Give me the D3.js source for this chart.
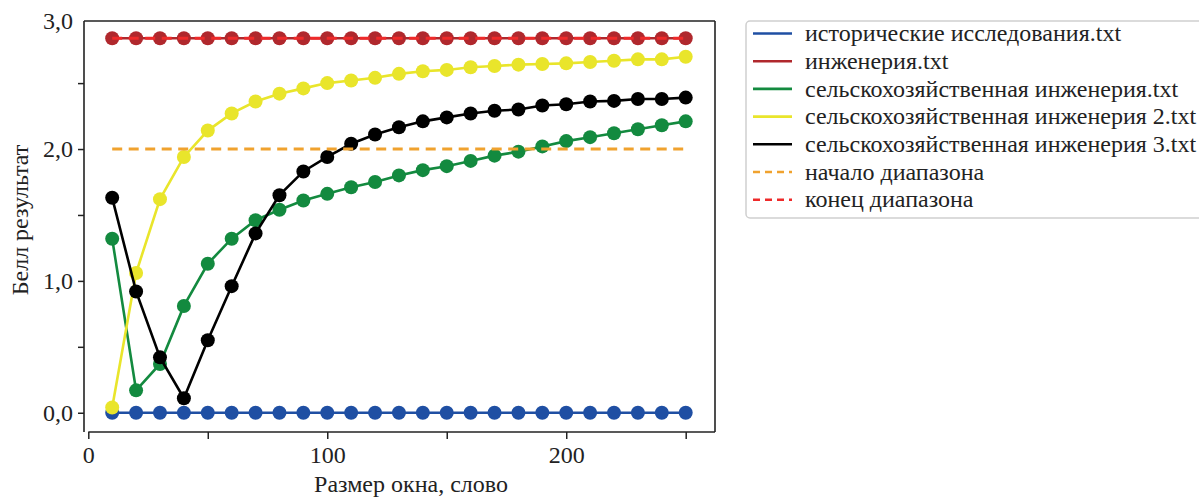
<!DOCTYPE html>
<html>
<head>
<meta charset="utf-8">
<script src="https://cdn.jsdelivr.net/npm/d3@7"></script>
<style>
  body { margin: 0; background: #fff; }
  svg { font-family: "Liberation Serif", "Times New Roman", serif; }
</style>
</head>
<body>
<svg width="1199" height="497"></svg>
<script>
// window sizes, words
const windowSizes = [10, 20, 30, 40, 50, 60, 70, 80, 90, 100, 110, 120, 130, 140, 150, 160, 170, 180, 190, 200, 210, 220, 230, 240, 250];

const historical = [0, 0, 0, 0, 0, 0, 0, 0, 0, 0, 0, 0, 0, 0, 0, 0, 0, 0, 0, 0, 0, 0, 0, 0, 0];
const engineering = [2.84, 2.84, 2.84, 2.84, 2.84, 2.84, 2.84, 2.84, 2.84, 2.84, 2.84, 2.84, 2.84, 2.84, 2.84, 2.84, 2.84, 2.84, 2.84, 2.84, 2.84, 2.84, 2.84, 2.84, 2.84];
const agri1 = [1.32, 0.17, 0.37, 0.81, 1.13, 1.32, 1.46, 1.54, 1.61, 1.66, 1.71, 1.75, 1.80, 1.84, 1.87, 1.91, 1.95, 1.98, 2.02, 2.06, 2.09, 2.12, 2.15, 2.18, 2.21];
const agri2 = [0.04, 1.06, 1.62, 1.94, 2.14, 2.27, 2.36, 2.42, 2.46, 2.50, 2.52, 2.54, 2.57, 2.59, 2.60, 2.62, 2.63, 2.64, 2.645, 2.65, 2.66, 2.67, 2.68, 2.68, 2.70];
const agri3 = [1.63, 0.92, 0.42, 0.11, 0.55, 0.96, 1.36, 1.65, 1.83, 1.94, 2.04, 2.11, 2.165, 2.21, 2.24, 2.27, 2.29, 2.30, 2.33, 2.34, 2.36, 2.365, 2.38, 2.38, 2.39];

const rangeStart = 2.0;
const rangeEnd = 2.84;

const seriesNames = [
  "исторические исследования.txt",
  "инженерия.txt",
  "сельскохозяйственная инженерия.txt",
  "сельскохозяйственная инженерия 2.txt",
  "сельскохозяйственная инженерия 3.txt"
];
const rangeNames = ["начало диапазона", "конец диапазона"];

const xTicks = [0, 50, 100, 150, 200, 250];
const xTickLabels = ["0", "", "100", "", "200", ""];
const yTicks = [0, 0.5, 1, 1.5, 2, 2.5, 3];
const yTickLabels = ["0,0", "", "1,0", "", "2,0", "", "3,0"];

const xLabel = "Размер окна, слово";
const yLabel = "Белл результат";

const colors = ["#1f4fa3", "#b0282d", "#138a3f", "#e9e52b", "#000000"];
const rangeColors = ["#f0a22e", "#ee2a2a"];

const svg = d3.select("svg");
const plotLeft = 84, plotRight = 715, plotTop = 21, plotBottom = 432;
const fontSize = "24px";

const x = d3.scaleLinear().domain([0, 250]).range([88.3, 685.7]);
const y = d3.scaleLinear().domain([-0.146, 2.971]).range([plotBottom, plotTop]).clamp(true);

// frame
const frame = svg.append("g").attr("stroke", "#222").attr("stroke-width", 1.6).attr("fill", "none");
frame.append("line").attr("x1", plotLeft).attr("x2", plotLeft).attr("y1", plotTop).attr("y2", plotBottom);
frame.append("line").attr("x1", plotLeft).attr("x2", plotRight).attr("y1", plotTop).attr("y2", plotTop);
frame.append("line").attr("x1", plotRight).attr("x2", plotRight).attr("y1", plotTop).attr("y2", plotBottom);
frame.append("line").attr("x1", x(0)).attr("x2", plotRight).attr("y1", plotBottom).attr("y2", plotBottom);

// axes
const xAxis = svg.append("g")
  .attr("transform", `translate(0,${plotBottom})`)
  .call(d3.axisBottom(x).tickValues(xTicks).tickSizeInner(7).tickSizeOuter(0).tickPadding(7)
    .tickFormat((d, i) => xTickLabels[i]));
const yAxis = svg.append("g")
  .attr("transform", `translate(${plotLeft},0)`)
  .call(d3.axisLeft(y).tickValues(yTicks).tickSizeInner(6).tickSizeOuter(0).tickPadding(5)
    .tickFormat((d, i) => yTickLabels[i]));

[xAxis, yAxis].forEach(a => {
  a.select(".domain").remove();
  a.selectAll(".tick line").attr("stroke", "#222").attr("stroke-width", 1.5);
  a.selectAll(".tick text").attr("fill", "#222").style("font-size", fontSize)
    .style("font-family", "Liberation Serif, serif");
});
yAxis.selectAll(".tick").filter(d => d === 3).select("line").remove();

svg.append("text")
  .attr("x", 411).attr("y", 492)
  .attr("text-anchor", "middle").attr("fill", "#222")
  .style("font-size", fontSize).text(xLabel);

svg.append("text")
  .attr("transform", "translate(28,220) rotate(-90)")
  .attr("text-anchor", "middle").attr("fill", "#222")
  .style("font-size", fontSize).text(yLabel);

// series
const allSeries = [historical, engineering, agri1, agri2, agri3];
const line = d3.line().x(d => x(d[0])).y(d => y(d[1]));

allSeries.forEach((vals, si) => {
  const pts = windowSizes.map((w, i) => [w, vals[i]]);
  const g = svg.append("g");
  g.append("path").datum(pts)
    .attr("d", line).attr("fill", "none")
    .attr("stroke", colors[si]).attr("stroke-width", 2.6);
  g.selectAll("circle").data(pts).enter().append("circle")
    .attr("cx", d => x(d[0])).attr("cy", d => y(d[1]))
    .attr("r", 7).attr("fill", colors[si]);
});

// range lines
[rangeStart, rangeEnd].forEach((v, i) => {
  svg.append("line")
    .attr("x1", x(windowSizes[0])).attr("x2", x(windowSizes[windowSizes.length - 1]))
    .attr("y1", y(v)).attr("y2", y(v))
    .attr("stroke", rangeColors[i]).attr("stroke-width", 3)
    .attr("stroke-dasharray", "10,6.5");
});

// legend
const legend = svg.append("g");
legend.append("rect")
  .attr("x", 746).attr("y", 21).attr("width", 520).attr("height", 197).attr("rx", 4)
  .attr("fill", "#fff").attr("stroke", "#cfcfcf").attr("stroke-width", 1.5);

const legendItems = seriesNames.map((n, i) => ({ name: n, color: colors[i], dash: null }))
  .concat(rangeNames.map((n, i) => ({ name: n, color: rangeColors[i], dash: "7,5" })));

legendItems.forEach((item, i) => {
  const ly = 33.5 + i * 27.7;
  legend.append("line")
    .attr("x1", 753).attr("x2", 792).attr("y1", ly).attr("y2", ly)
    .attr("stroke", item.color).attr("stroke-width", 2.6)
    .attr("stroke-dasharray", item.dash);
  legend.append("text")
    .attr("x", 805).attr("y", ly).attr("dy", "0.32em")
    .attr("fill", "#222").style("font-size", fontSize)
    .text(item.name);
});
</script>
</body>
</html>
